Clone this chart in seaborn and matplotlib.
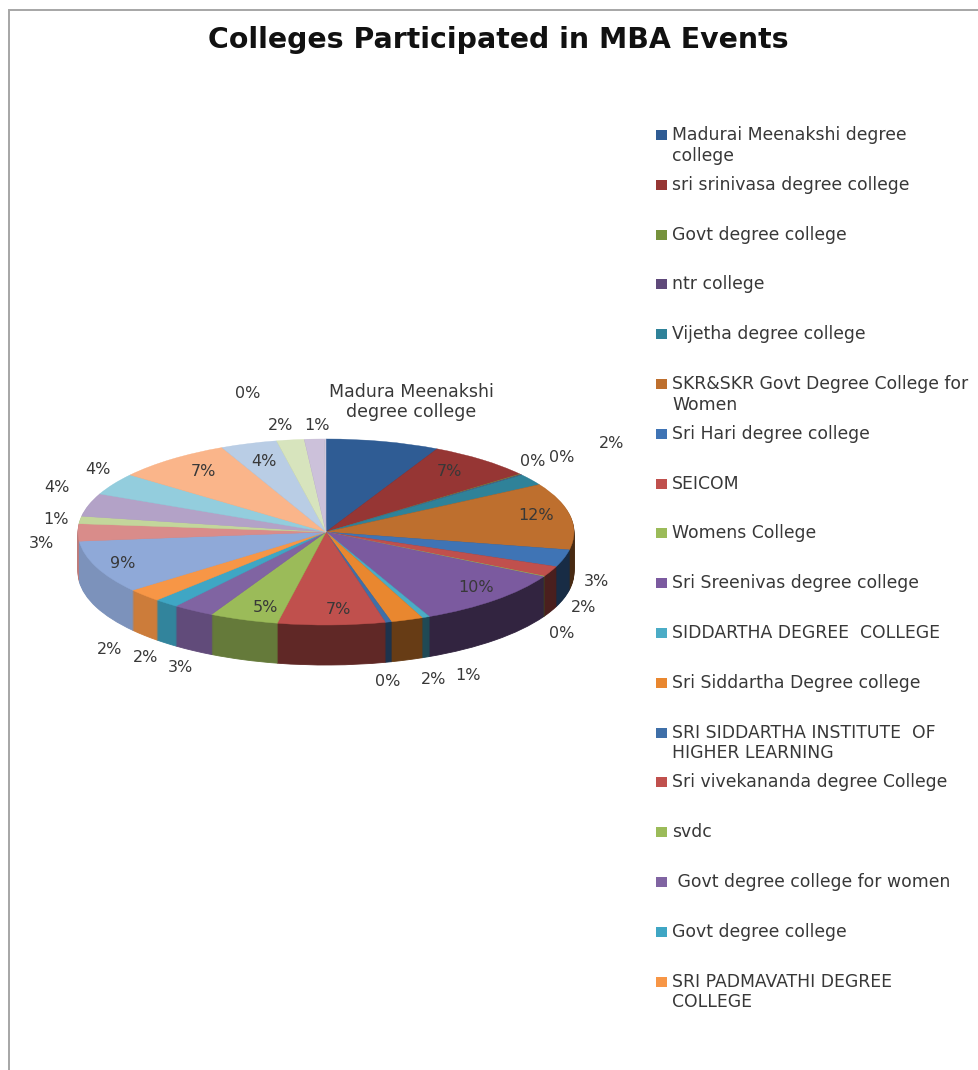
import numpy as np
import matplotlib
matplotlib.use("Agg")
import matplotlib.pyplot as plt
from matplotlib.colors import to_rgb
from matplotlib.patches import Rectangle
import seaborn as sns

TITLE = "Colleges Participated in MBA Events"
LEGEND_LABELS = [
    "Madurai Meenakshi degree\ncollege", "sri srinivasa degree college", "Govt degree college",
    "ntr college", "Vijetha degree college", "SKR&SKR Govt Degree College for\nWomen",
    "Sri Hari degree college", "SEICOM", "Womens College", "Sri Sreenivas degree college",
    "SIDDARTHA DEGREE  COLLEGE", "Sri Siddartha Degree college",
    "SRI SIDDARTHA INSTITUTE  OF\nHIGHER LEARNING", "Sri vivekananda degree College", "svdc",
    " Govt degree college for women", "Govt degree college", "SRI PADMAVATHI DEGREE\nCOLLEGE",
]
SHARES = [7.4, 6.9, 0.1, 0.1, 2.0, 11.6, 3.0, 1.8, 0.1, 10.2, 0.5, 2.1, 0.4, 7.0,
          4.5, 2.7, 1.6, 2.3, 9.2, 3.0, 1.3, 4.0, 3.8, 7.6, 3.7, 1.8, 1.3, 0.1]
SLICE_LABELS = ["Madura Meenakshi\ndegree college", "7%", "0%", "0%", "2%", "12%", "3%", "2%", "0%",
                "10%", "1%", "2%", "0%", "7%", "5%", "3%", "2%", "2%", "9%", "3%", "1%", "4%",
                "4%", "7%", "4%", "2%", "1%", "0%"]
COLORS = ["#2F5C94", "#963634", "#76923C", "#5F497A", "#2F8299", "#BE6F2E",
          "#3F74B5", "#C0504D", "#9BBB59", "#7B5A9F", "#4BACC6", "#E9872F",
          "#3F6FA8", "#C0504D", "#9BBB59", "#8064A2", "#3FA6C4", "#F79646",
          "#8FA9D8", "#D98C8A", "#C3D69B", "#B3A2C7", "#93CDDD", "#FAB58A",
          "#B9CDE5", "#D7E4BD", "#CCC1DA", "#CFC8DC"]

# layout (figure pixels)
W, H = 979, 1070
CX, CY, RX, RY, DEPTH = 326, 532, 248, 93, 40
LABEL_PX = [(411, 402), (449, 472), (533, 462), (562, 457), (612, 443), (536, 516), (596, 581),
            (584, 608), (562, 634), (476, 587), (468, 675), (434, 679), (388, 682), (338, 610),
            (265, 607), (180, 667), (146, 658), (110, 649), (123, 563), (41, 544), (56, 520),
            (57, 487), (98, 470), (203, 472), (264, 462), (281, 425), (317, 426), (248, 393)]

sns.set_theme(style="white")
plt.rcParams["font.family"] = ["DejaVu Sans"]
fig = plt.figure(figsize=(W / 100, H / 100), dpi=100, facecolor="white")

span = 2.0
ax = fig.add_axes([(CX - RX * span) / W, (H - CY - RY * span) / H,
                   2 * RX * span / W, 2 * RY * span / H])

shares = np.array(SHARES)
mids = 90 - (np.cumsum(shares) - shares / 2) / shares.sum() * 360
mid_x = np.cos(np.radians(mids))
factor = np.interp(mid_x, [-1, -0.7, -0.45, -0.1, 0.45, 1], [0.88, 0.82, 0.72, 0.52, 0.42, 0.38])
side_colors = [tuple(np.array(to_rgb(c)) * f) for c, f in zip(COLORS, factor)]

for k in np.arange(DEPTH, 0, -1):
    side, _ = ax.pie(shares, colors=side_colors, startangle=90, counterclock=False, radius=1,
                     center=(0, -k / RY), normalize=True)
    for w in side:
        w.set_edgecolor(w.get_facecolor())
        w.set_linewidth(0.6)
wedges, _ = ax.pie(shares, colors=COLORS, startangle=90, counterclock=False, radius=1,
                   center=(0, 0), normalize=True)
for w in wedges:
    w.set_edgecolor(w.get_facecolor())
    w.set_linewidth(0.3)
ax.set_aspect("auto")
ax.set_xlim(-span, span)
ax.set_ylim(-span, span)
ax.axis("off")

ov = fig.add_axes([0, 0, 1, 1], facecolor="none")
ov.set_xlim(0, W)
ov.set_ylim(H, 0)
ov.axis("off")

ov.plot([9, 9, W], [H, 10, 10], color="#a6a6a6", lw=1.4, solid_joinstyle="miter")
ov.text(498, 40, TITLE, ha="center", va="center", fontsize=20.4, fontweight="bold",
        color="#111111")

for (x, y), s in zip(LABEL_PX, SLICE_LABELS):
    ov.text(x, y, s, ha="center", va="center", fontsize=12.5 if "\n" in s else 11.5,
            color="#383838", linespacing=1.15, multialignment="center")

for i, s in enumerate(LEGEND_LABELS):
    y = 135 + i * 49.8
    ov.add_patch(Rectangle((656, y - 5), 11, 10, facecolor=COLORS[i], edgecolor="none"))
    if "\n" in s:
        ov.text(672, y - 9, s, ha="left", va="top", fontsize=12.4, color="#383838", linespacing=1.18)
    else:
        ov.text(672, y, s, ha="left", va="center", fontsize=12.4, color="#383838")

fig.savefig("out.png", dpi=100)
